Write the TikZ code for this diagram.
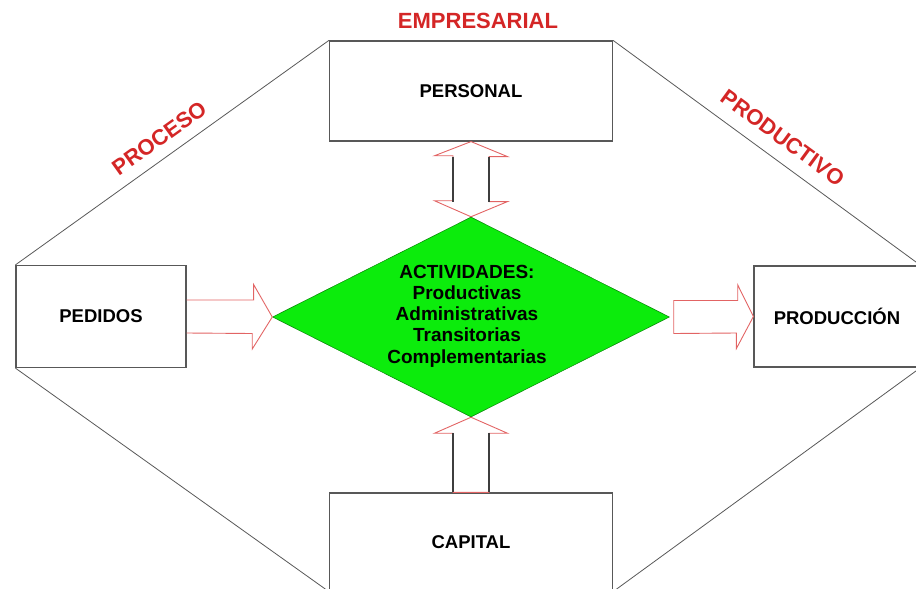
\documentclass[tikz,border=0pt]{standalone}
\usepackage{fontspec}
\setmainfont{Liberation Sans}
\usetikzlibrary{calc,shapes.geometric}
\definecolor{rojo}{RGB}{212,38,38}
\definecolor{flecha}{RGB}{226,100,100}
\definecolor{verde}{RGB}{12,236,12}
\definecolor{borde}{RGB}{88,88,88}

\begin{document}
\begin{tikzpicture}[x=1pt,y=-1pt]
        \tikzstyle{rec} = [rectangle, draw=borde, line width=1.2pt, fill=white, font=\bfseries\fontsize{18.5}{20}\selectfont]
        \tikzstyle{diag} = [draw=borde, line width=0.8pt]
        \tikzstyle{titulo} = [text=rojo, font=\bfseries\fontsize{22}{24}\selectfont]
        \tikzstyle{bloque} = [draw=flecha, line width=0.9pt, line join=miter]
        \tikzstyle{fuste} = [draw=borde!70!black, line width=1.1pt]

        \useasboundingbox (0,0) rectangle (916,589);

        \node(personal) [rec, minimum width=283pt, minimum height=100pt] at (471,91) {PERSONAL};
        \node(pedidos) [rec, minimum width=170pt, minimum height=102pt] at (101,316.5) {PEDIDOS};
        \node(produccion) [rec, minimum width=166pt, minimum height=101pt] at (837,316.5) {PRODUCCIÓN};
        \node(capital) [rec, minimum width=283pt, minimum height=98pt] at (471,542) {CAPITAL};
        \node(actividades) [diamond, fill=verde, draw=verde!55!black, line width=0.5pt,
        minimum width=397pt, minimum height=200pt, inner sep=0pt] at (471,317) {};
        \node(lista) [align=center, font=\bfseries\fontsize{19}{21.2}\selectfont] at (467,316)
        {ACTIVIDADES:\\ Productivas\\ Administrativas\\ Transitorias\\ Complementarias};

        \node(empresarial) [titulo] at (478,21) {EMPRESARIAL};

        \draw[diag] (pedidos.north west) -- node[titulo, sloped, above=8pt, pos=0.495] {PROCESO} (personal.north west);
        \draw[diag] (personal.north east) -- node[titulo, sloped, above=10pt, pos=0.51] {PRODUCTIVO} (produccion.north east);
        \draw[diag] (pedidos.south west) -- (capital.south west);
        \draw[diag] (capital.south east) -- (produccion.south east);

        % flechas de bloque
        \draw[bloque] ($(pedidos.east)+(0,-16.5)$) -- ++(67,0) -- ++(0,-15.5) -- (actividades.west)
        -- ($(actividades.west)+(-20,32)$) -- ++(0,-15.5) -- ($(pedidos.east)+(0,16.5)$);
        \draw[bloque] ($(actividades.east)+(4,-16.5)$) -- ++(64,0) -- ++(0,-15.5) -- (produccion.west)
        -- ($(produccion.west)+(-17,32)$) -- ++(0,-15.5) -- ($(actividades.east)+(4,16.5)$) -- cycle;
        \draw[bloque] (personal.south) -- ++(36.5,15) -- ++(-18.5,0) -- ++(0,45) -- ++(18.5,0)
        -- (actividades.north) -- ($(actividades.north)+(-36.5,-16)$) -- ++(18.5,0) -- ++(0,-45)
        -- ++(-18.5,0) -- cycle;
        \draw[fuste] ($(personal.south)+(-18,15)$) -- ++(0,45);
        \draw[fuste] ($(personal.south)+(18,15)$) -- ++(0,45);
        \draw[bloque] (actividades.south) -- ++(36.5,16) -- ++(-18.5,0) -- ($(capital.north)+(18,0)$)
        -- ($(capital.north)+(-18,0)$) -- ($(actividades.south)+(-18,16)$) -- ++(-18.5,0) -- cycle;
        \draw[fuste] ($(capital.north)+(-18,0)$) -- ($(actividades.south)+(-18,16)$);
        \draw[fuste] ($(capital.north)+(18,0)$) -- ($(actividades.south)+(18,16)$);
    \end{tikzpicture}
\end{document}
